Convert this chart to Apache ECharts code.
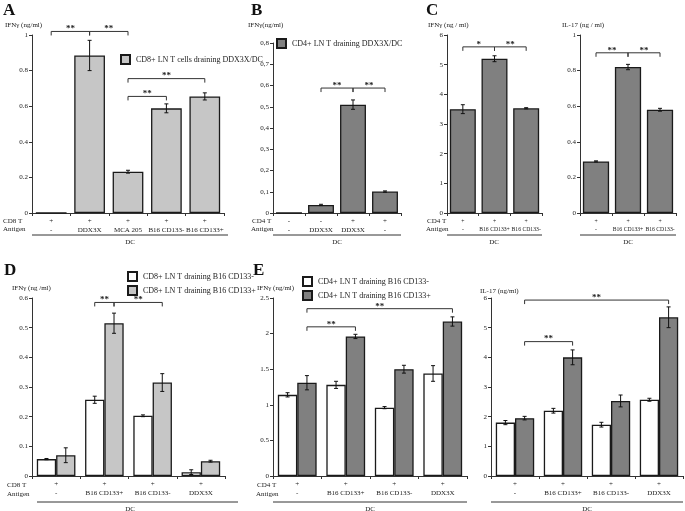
<!DOCTYPE html>
<html><head><meta charset="utf-8">
<script src="https://cdn.jsdelivr.net/npm/echarts@6/dist/echarts.min.js"></script>
<style>html,body{margin:0;padding:0;background:#fff}#c{width:685px;height:511px}</style>
</head><body><div id="c"></div>
<script>
// ---------- DATA ----------
// Panel A
const A_top = ['+','+','+','+','+'];
const A_bottom = ['-','DDX3X','MCA 205','B16 CD133-','B16 CD133+'];
const A_vals = [0, 0.885, 0.232, 0.588, 0.655];
const A_err = [0, 0.085, 0.008, 0.025, 0.02];
// Panel B
const B_top = ['-','-','+','+'];
const B_bottom = ['-','DDX3X','DDX3X','-'];
const B_vals = [0, 0.038, 0.51, 0.101];
const B_err = [0, 0.003, 0.022, 0.003];
// Panel C
const C_top = ['+','+','+'];
const C_bottom = ['-','B16 CD133+','B16 CD133-'];
const C1_vals = [3.5, 5.2, 3.53];
const C1_err = [0.15, 0.1, 0.02];
const C2_vals = [0.29, 0.82, 0.58];
const C2_err = [0.003, 0.015, 0.008];
// Panel D
const D_top = ['+','+','+','+'];
const D_bottom = ['-','B16 CD133+','B16 CD133-','DDX3X'];
const D_neg = [0.057, 0.257, 0.203, 0.013];
const D_negErr = [0.002, 0.012, 0.003, 0.008];
const D_pos = [0.07, 0.515, 0.315, 0.05];
const D_posErr = [0.025, 0.034, 0.03, 0.003];
// Panel E
const E_top = ['+','+','+','+'];
const E_bottom = ['-','B16 CD133+','B16 CD133-','DDX3X'];
const E1_neg = [1.14, 1.28, 0.96, 1.44];
const E1_negErr = [0.03, 0.05, 0.015, 0.11];
const E1_pos = [1.31, 1.96, 1.5, 2.17];
const E1_posErr = [0.1, 0.03, 0.055, 0.065];
const E2_neg = [1.8, 2.2, 1.73, 2.57];
const E2_negErr = [0.07, 0.08, 0.08, 0.05];
const E2_pos = [1.95, 4.0, 2.53, 5.35];
const E2_posErr = [0.06, 0.25, 0.2, 0.35];
// significance brackets: [cat1, offset1, cat2, offset2, y, stars]
const A_sig = [[0,0,1,0,1.02,2],[1,0,2,0,1.02,2],[2,0,4,0,0.755,2],[2,0,3,0,0.655,2]];
const B_sig = [[1,0,2,0,0.588,2],[2,0,3,0,0.588,2]];
const C1_sig = [[0,0,1,0,5.6,1],[1,0,2,0,5.6,2]];
const C2_sig = [[0,0,1,0,0.9,2],[1,0,2,0,0.9,2]];
const D_sig = [[1,-0.2,1,0.2,0.585,2],[1,0.2,2,0.2,0.585,2]];
const E1_sig = [[0,0.2,3,0.2,2.35,2],[0,0.2,1,0.2,2.095,2]];
const E2_sig = [[0,0.2,3,0.2,5.93,2],[0,0.2,1,0.2,4.53,2]];

// ---------- STYLE ----------
const FF = '"Liberation Serif", "DejaVu Serif", serif';
const HATCH = '#c6c6c6', DARK = '#808080', WHITE = '#ffffff', EDGE = '#1a1a1a';

const grids = [
  {left:32, top:35, width:192, height:178},   // A
  {left:273, top:43, width:128, height:170},  // B
  {left:447, top:35, width:95, height:178},   // C1
  {left:580, top:35, width:96, height:178},   // C2
  {left:32, top:298, width:193, height:178},  // D
  {left:273, top:298, width:194, height:178}, // E1
  {left:491, top:298, width:192, height:178}  // E2
];
const xCats = [
  [A_top,A_bottom],[B_top,B_bottom],[C_top,C_bottom],[C_top,C_bottom],
  [D_top,D_bottom],[E_top,E_bottom],[E_top,E_bottom]
];
const yCfg = [
  {max:1, interval:0.2},
  {max:0.8, interval:0.1, comma:true},
  {max:6, interval:1},
  {max:1, interval:0.2},
  {max:0.6, interval:0.1},
  {max:2.5, interval:0.5},
  {max:6, interval:1}
];

const xAxis = xCats.map((c,i)=>({
  type:'category', gridIndex:i,
  data: c[0].map((t,k)=>t+'\n'+c[1][k]),
  axisLine:{lineStyle:{color:'#333', width:1}},
  axisTick:{show:true, length:3, lineStyle:{color:'#333'}},
  axisLabel:{interval:0, fontFamily:FF, fontSize:(i===2||i===3?5.7:7), color:'#222', lineHeight:(i>=4?9:8.5), margin:4}
}));
const yAxis = yCfg.map((y,i)=>({
  type:'value', gridIndex:i, min:0, max:y.max, interval:y.interval,
  splitLine:{show:false},
  axisLine:{show:true, lineStyle:{color:'#333', width:1}},
  axisTick:{show:true, length:3, lineStyle:{color:'#333'}},
  axisLabel:{fontFamily:FF, fontSize:7, color:'#222', margin:4,
    formatter: v => { let s = String(+v.toFixed(2)); return y.comma ? s.replace('.',',') : s; }}
}));

function errData(vals, errs){ return vals.map((v,i)=>[i, v-errs[i], v+errs[i], errs[i]]).filter(d=>d[3]>0); }
function errSeries(idx, vals, errs, off){
  return {type:'custom', xAxisIndex:idx, yAxisIndex:idx, z:10, silent:true,
    data: errData(vals, errs), encode:{x:0, y:[1,2]},
    renderItem:(p, api)=>{
      const w = api.size([1,0])[0];
      const a = api.coord([api.value(0), api.value(1)]);
      const b = api.coord([api.value(0), api.value(2)]);
      const x = a[0] + off*w, cap = 2;
      const st = {stroke:'#111', lineWidth:1};
      return {type:'group', children:[
        {type:'line', shape:{x1:x,y1:a[1],x2:x,y2:b[1]}, style:st},
        {type:'line', shape:{x1:x-cap,y1:a[1],x2:x+cap,y2:a[1]}, style:st},
        {type:'line', shape:{x1:x-cap,y1:b[1],x2:x+cap,y2:b[1]}, style:st}
      ]};
    }};
}
function sigSeries(idx, data){
  return {type:'custom', xAxisIndex:idx, yAxisIndex:idx, z:12, silent:true, clip:false,
    data:data, encode:{x:[0,2], y:4},
    renderItem:(p, api)=>{
      const w = api.size([1,0])[0];
      const p1 = api.coord([api.value(0), api.value(4)]);
      const p2 = api.coord([api.value(2), api.value(4)]);
      const x1 = p1[0]+api.value(1)*w, x2 = p2[0]+api.value(3)*w, y = p1[1];
      return {type:'group', children:[
        {type:'polyline', shape:{points:[[x1,y+4],[x1,y],[x2,y],[x2,y+4]]}, style:{stroke:'#333', lineWidth:1, fill:null}},
        {type:'text', style:{text:'*'.repeat(api.value(5)), x:(x1+x2)/2, y:y+2, align:'center', verticalAlign:'bottom', fontSize:9, fontWeight:'bold', fontFamily:FF, fill:'#222'}}
      ]};
    }};
}
function bar(name, idx, vals, color, width, gap){
  return {type:'bar', name:name, xAxisIndex:idx, yAxisIndex:idx, data:vals, barWidth:width, barGap:gap||'0%',
    itemStyle:{color:color, borderColor:EDGE, borderWidth:1.3}};
}

const sA = 'CD8+ LN T cells draining DDX3X/DC';
const sB = 'CD4+ LN T draining DDX3X/DC';
const sDn = 'CD8+ LN T draining B16 CD133-', sDp = 'CD8+ LN T draining B16 CD133+';
const sEn = 'CD4+ LN T draining B16 CD133-', sEp = 'CD4+ LN T draining B16 CD133+';

const series = [
  bar(sA, 0, A_vals, HATCH, '80%'), errSeries(0, A_vals, A_err, 0), sigSeries(0, A_sig),
  bar(sB, 1, B_vals, DARK, '81%'), errSeries(1, B_vals, B_err, 0), sigSeries(1, B_sig),
  bar('C IFN', 2, C1_vals, DARK, '82%'), errSeries(2, C1_vals, C1_err, 0), sigSeries(2, C1_sig),
  bar('C IL17', 3, C2_vals, DARK, '82%'), errSeries(3, C2_vals, C2_err, 0), sigSeries(3, C2_sig),
  bar(sDn, 4, D_neg, WHITE, '40%'), bar(sDp, 4, D_pos, HATCH, '40%'),
  errSeries(4, D_neg, D_negErr, -0.2), errSeries(4, D_pos, D_posErr, 0.2), sigSeries(4, D_sig),
  bar(sEn, 5, E1_neg, WHITE, '40%'), bar(sEp, 5, E1_pos, DARK, '40%'),
  errSeries(5, E1_neg, E1_negErr, -0.2), errSeries(5, E1_pos, E1_posErr, 0.2), sigSeries(5, E1_sig),
  bar(sEn, 6, E2_neg, WHITE, '40%'), bar(sEp, 6, E2_pos, DARK, '40%'),
  errSeries(6, E2_neg, E2_negErr, -0.2), errSeries(6, E2_pos, E2_posErr, 0.2), sigSeries(6, E2_sig)
];

const lg = (data, left, top) => ({data:data, left:left, top:top, orient:'vertical', icon:'rect',
  itemWidth:9, itemHeight:9, itemGap:3, padding:0, selectedMode:false,
  textStyle:{fontFamily:FF, fontSize:8, color:'#222', padding:[0,0,0,1]}});
const legend = [lg([sA],120,54), lg([sB],276,38), lg([sDn,sDp],127,271), lg([sEn,sEp],302,276)];

// ---------- ANNOTATIONS (text) ----------
const T = (text, x, y, o) => Object.assign({type:'text', x:x, y:y, style:{text:text, fontFamily:FF, fontSize:7, fill:'#222', verticalAlign:'middle'}}, o||{});
const L = (x1, x2, y) => ({type:'line', shape:{x1:x1,y1:y,x2:x2,y2:y}, style:{stroke:'#333', lineWidth:1}});
const big = (t,x,y) => ({type:'text', x:x, y:y, style:{text:t, fontFamily:FF, fontSize:17, fontWeight:'bold', fill:'#111'}});
const ctr = (t,x,y) => ({type:'text', x:x, y:y, style:{text:t, fontFamily:FF, fontSize:7, fill:'#222', align:'center', verticalAlign:'middle'}});

const graphic = [
  big('A',3,2), big('B',251,2), big('C',426,2), big('D',4,262), big('E',253,262),
  T('IFNγ (ng/ml)',5,25), T('IFNγ(ng/ml)',248,25), T('IFNγ (ng / ml)',428,25), T('IL-17 (ng / ml)',562,25),
  T('IFNγ (ng /ml)',12,288), T('IFNγ (ng/ml)',257,288), T('IL-17 (ng/ml)',480,291),
  T('CD8 T',3,221), T('Antigen',3,229.5),
  T('CD4 T',252,221), T('Antigen',251,229.5),
  T('CD4 T',427,221), T('Antigen',426,229.5),
  T('CD8 T',7,485), T('Antigen',7,494),
  T('CD4 T',257,485), T('Antigen',256,494),
  L(32,228,235), ctr('DC',130,242),
  L(273,401,235), ctr('DC',337,242),
  L(447,542,235), ctr('DC',494,242),
  L(580,676,235), ctr('DC',628,242),
  L(37,238,502), ctr('DC',130,509),
  L(273,467,502), ctr('DC',370,509),
  L(491,683,502), ctr('DC',587,509)
];

const chart = echarts.init(document.getElementById('c'), null, {renderer:'canvas'});
chart.setOption({
  backgroundColor:'#ffffff', animation:false,
  grid:grids, xAxis:xAxis, yAxis:yAxis, series:series, legend:legend, graphic:graphic
});
</script></body></html>
